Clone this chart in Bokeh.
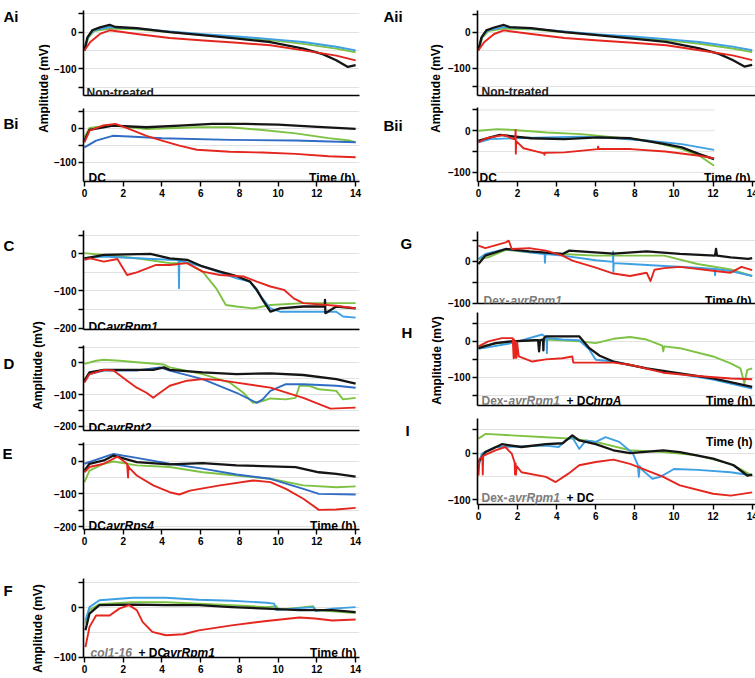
import math
from bokeh.plotting import figure
from bokeh.layouts import row, column
from bokeh.models import Label, FixedTicker, Range1d
from bokeh.embed import file_html
from bokeh.resources import INLINE

FONT = "Liberation Sans"
BLACK = "#151515"
RED = "#e4261e"
GREEN = "#7dc243"
BLUE = "#3ea0e2"
BLUE_DARK = "#2f6cc4"
GRID = "#e2e2e2"
GREY_TXT = "#7c7c7c"

HOURS = [0, 2, 4, 6, 8, 10, 12, 14]

# ---------------- recordings (time in h, amplitude in mV) ----------------
# A: non-treated (same recording shown in Ai and Aii)
a_black_t = [0, 0.15, 0.4, 0.8, 1.3, 1.6, 2.7, 4.4, 6.2, 7.9, 9.6, 11.3, 12.3, 13.0, 13.6, 14.0]
a_black_v = [-50, -15, 5, 13, 20, 14, 11, 0, -9, -18, -27, -45, -60, -77, -95, -90]
a_red_t = [0, 0.3, 0.8, 1.3, 2.7, 4.4, 6.15, 7.9, 9.6, 11.3, 13.0, 14.0]
a_red_v = [-50, -27, -5, 5, -5, -16, -23, -29, -36, -50, -64, -77]
a_green_t = [0, 0.2, 0.5, 1.3, 2.7, 4.4, 6.15, 7.9, 9.6, 11.3, 13.0, 14.0]
a_green_v = [-50, -15, 3, 10, 8, 0, -8, -15, -22, -32, -45, -55]
a_blue_t = [0, 0.2, 0.5, 1.3, 2.7, 4.4, 6.15, 7.9, 9.6, 11.3, 13.0, 14.0]
a_blue_v = [-45, -10, 5, 14, 10, 2, -6, -12, -19, -27, -40, -50]

# Bi: DC
bi_black_t = [0, 0.26, 1.46, 3.2, 4.9, 6.6, 8.3, 10.0, 11.8, 14.0]
bi_black_v = [-36, -5, 8, 3, 8, 13, 13, 11, 5, -2]
bi_red_t = [0, 0.26, 0.95, 1.6, 2.3, 3.2, 4.0, 4.9, 5.8, 7.5, 9.2, 10.9, 12.6, 14.0]
bi_red_v = [-41, -7, 8, 13, -2, -22, -36, -51, -63, -69, -71, -75, -82, -85]
bi_green_t = [0, 0.26, 1.46, 2.3, 3.2, 5.8, 7.5, 9.2, 10.9, 12.6, 13.7, 14.0]
bi_green_v = [-26, 1, 10, 3, -2, 3, 3, -5, -15, -29, -36, -41]
bi_blue_t = [0, 0.6, 1.46, 2.3, 4.0, 7.5, 10.9, 14.0]
bi_blue_v = [-56, -36, -22, -24, -29, -34, -36, -41]

# Bii: DC
bii_black_t = [0, 0.6, 1.1, 2.7, 4.4, 6.1, 7.8, 9.55, 10.4, 11.3, 12.05]
bii_black_v = [-24, -16, -10, -18, -20, -16, -18, -32, -40, -56, -68]
bii_red_t = [0, 0.4, 1.3, 1.8, 1.88, 1.9, 1.91, 1.93, 2.3, 3.0, 3.35, 3.37, 3.4, 4.4,
             6.1, 6.12, 6.15, 7.8, 9.55, 11.3, 12.05]
bii_red_v = [-28, -18, -10, -20, -18, 2, -55, -25, -42, -50, -54, -58, -53, -52,
             -44, -38, -44, -44, -50, -60, -66]
bii_green_t = [0, 0.95, 1.8, 3.5, 5.25, 7.0, 8.7, 10.4, 11.3, 12.05]
bii_green_v = [0, 4, 2, -4, -8, -16, -24, -44, -60, -84]
bii_blue_t = [0, 0.6, 1.8, 3.5, 5.25, 7.0, 8.7, 10.4, 12.05]
bii_blue_v = [-28, -20, -18, -16, -14, -18, -24, -32, -46]
bii_grid_end = 12.1

# C: DC avrRpm1
c_black_t = [0, 1.0, 3.4, 4.4, 5.3, 6.1, 7.0, 7.9, 8.55, 8.9, 9.2, 9.6, 10.1, 11.3,
             12.4, 12.42, 12.44, 13.0, 14.0]
c_black_v = [-12, -3, 0, -12, -16, -34, -48, -61, -75, -97, -124, -156, -147, -142,
             -142, -124, -160, -142, -147]
c_red_t = [0, 0.3, 1.0, 1.7, 2.2, 2.7, 3.7, 4.4, 5.3, 6.1, 7.0, 8.2, 8.9, 9.6, 10.3,
           10.8, 11.3, 13.0, 14.0]
c_red_v = [-16, -12, -21, -14, -57, -50, -30, -30, -25, -48, -57, -61, -75, -88, -97,
           -120, -133, -140, -147]
c_green_t = [0, 1.0, 2.7, 4.4, 5.3, 6.1, 6.8, 7.3, 7.85, 8.7, 9.6, 11.3, 13.0, 14.0]
c_green_v = [2, -3, -12, -25, -25, -48, -93, -138, -142, -147, -138, -133, -133, -133]
c_blue_t = [0, 1.0, 2.7, 4.4, 4.86, 4.88, 4.9, 6.1, 7.85, 8.55, 9.05, 9.6, 10.1, 11.3,
            13.0, 13.35, 14.0]
c_blue_v = [-12, -7, -12, -16, -17, -93, -18, -34, -66, -75, -111, -147, -156, -156,
            -156, -169, -172]

# D: DC avrRpt2
d_black_t = [0, 0.26, 1.0, 2.7, 3.55, 4.1, 4.4, 6.1, 7.85, 9.6, 11.3, 13.0, 14.0]
d_black_v = [-56, -30, -22, -22, -22, -14, -22, -30, -35, -33, -38, -51, -65]
d_red_t = [0, 0.26, 1.0, 1.5, 2.2, 2.7, 3.2, 3.55, 3.9, 4.4, 5.3, 6.1, 7.0, 7.85, 9.6,
           11.3, 12.7, 14.0]
d_red_v = [-62, -35, -22, -24, -56, -78, -94, -110, -94, -72, -56, -51, -54, -62, -78,
           -110, -144, -141]
d_green_t = [0, 0.6, 1.0, 1.8, 2.7, 4.1, 4.4, 6.1, 7.5, 8.2, 8.7, 9.2, 9.6, 10.4, 10.9,
             11.1, 11.6, 12.1, 13.0, 13.35, 14.0]
d_green_v = [-3, 7, 10, 7, 2, -5, -14, -35, -62, -94, -126, -120, -112, -115, -110,
             -72, -72, -83, -88, -115, -110]
d_blue_t = [0, 0.26, 1.0, 2.7, 3.9, 4.4, 6.1, 7.85, 8.9, 9.2, 9.6, 10.4, 11.3, 13.0, 14.0]
d_blue_v = [-56, -35, -24, -24, -14, -24, -51, -94, -126, -115, -88, -67, -67, -72, -78]

# E: DC avrRps4
e_black_t = [0, 0.26, 1.0, 1.5, 2.7, 4.4, 6.1, 7.85, 9.6, 10.9, 12.1, 13.0, 14.0]
e_black_v = [-29, -8, 2, 17, -3, -10, -6, -13, -16, -18, -34, -39, -47]
e_red_t = [0, 0.26, 1.0, 1.7, 2.2, 2.25, 2.27, 2.3, 2.7, 3.55, 4.4, 4.9, 5.45, 7.0, 8.7,
           9.6, 10.4, 11.3, 12.1, 13.0, 14.0]
e_red_v = [-34, -18, -8, 14, -8, -50, -15, -20, -44, -74, -95, -102, -90, -74, -59,
           -64, -85, -115, -149, -148, -143]
e_green_t = [0, 0.26, 1.0, 1.5, 2.7, 4.4, 6.1, 7.85, 9.6, 11.3, 13.0, 14.0]
e_green_v = [-64, -29, -8, -1, -13, -18, -34, -44, -54, -74, -80, -77]
e_blue_t = [0, 1.0, 1.5, 2.7, 4.4, 6.1, 7.85, 9.6, 11.3, 12.1, 14.0]
e_blue_v = [-8, 12, 22, 10, -8, -23, -41, -54, -85, -100, -102]

# F: col1-16 + DC avrRpm1
f_black_t = [0.05, 0.26, 0.77, 2.5, 4.2, 5.9, 7.6, 9.4, 11.1, 12.8, 14.0]
f_black_v = [-46, -12, 5, 6, 5, 5, 1, -2, -5, -5, -9]
f_red_t = [0.05, 0.26, 0.6, 1.3, 1.8, 2.3, 2.7, 3.0, 3.5, 4.2, 5.1, 5.9, 7.6, 9.4, 11.1,
           11.9, 12.8, 14.0]
f_red_v = [-80, -39, -16, -16, -2, 5, -5, -29, -49, -56, -54, -46, -36, -27, -20, -22,
           -26, -24]
f_green_t = [0.05, 0.26, 0.77, 2.5, 4.2, 5.9, 7.6, 9.4, 9.9, 10.05, 11.1, 11.8, 11.95, 14.0]
f_green_v = [-32, -5, 7, 11, 11, 8, 5, 1, 3, -4, 0, 3, -5, -11]
f_blue_t = [0.05, 0.26, 0.77, 2.5, 4.2, 5.9, 7.6, 9.4, 9.8, 9.9, 11.1, 11.8, 11.95, 12.8, 14.0]
f_blue_v = [-26, 1, 15, 20, 20, 16, 14, 10, 8, -5, -1, 1, -7, -2, 1]

# G: Dex-avrRpm1
g_black_t = [0, 0.35, 1.4, 2.6, 4.3, 4.65, 5.2, 6.9, 8.6, 10.3, 12.1, 12.15, 12.2, 12.9,
             13.8, 14.0]
g_black_v = [-6, 14, 30, 24, 18, 26, 24, 19, 24, 18, 14, 30, 14, 10, 6, 8]
g_red_t = [0, 0.35, 1.4, 1.55, 1.7, 2.6, 3.45, 4.3, 4.8, 6.0, 6.9, 7.75, 8.6, 8.8, 9.0,
           9.5, 10.3, 12.1, 12.9, 13.45, 14.0]
g_red_v = [38, 32, 46, 50, 30, 32, 26, 14, 2, -15, -29, -35, -27, -47, -20, -16, -13,
           -23, -27, -13, -21]
g_green_t = [0, 0.5, 1.4, 2.6, 4.3, 6.0, 7.75, 9.5, 11.2, 12.9, 14.0]
g_green_v = [6, 10, 28, 22, 18, 14, 14, 14, -6, -19, -35]
g_blue_t = [0, 0.35, 1.4, 2.6, 3.38, 3.4, 3.42, 4.3, 6.0, 6.88, 6.89, 6.9, 6.92, 7.75,
            9.5, 11.2, 12.08, 12.1, 12.12, 12.9, 14.0]
g_blue_v = [6, 18, 30, 22, 18, -3, 18, 14, 3, -1, 24, -25, -4, -6, -11, -15, -18, -33,
            -18, -23, -35]

# H: Dex-avrRpm1 + DC hrpA
h_black_t = [0, 0.86, 1.7, 2.9, 3.05, 3.1, 3.15, 3.3, 3.32, 3.34, 3.45, 4.5, 5.15, 5.67,
             6.2, 6.9, 8.6, 10.3, 12.0, 14.0]
h_black_v = [-19, -5, 0, 3, 3, -28, 3, 5, -25, 8, 14, 14, 14, -19, -40, -56, -75, -89,
             -103, -126]
h_red_t = [0, 0.5, 1.2, 1.75, 1.8, 1.82, 1.86, 1.9, 1.94, 1.98, 2.06, 2.75, 3.45, 4.3,
           4.8, 4.85, 6.9, 7.75, 9.45, 11.2, 12.9, 14.0]
h_red_v = [-14, 0, 9, 9, -47, 5, -45, 0, -46, -5, -42, -56, -50, -47, -42, -59, -59, -65,
           -87, -96, -103, -105]
h_green_t = [0, 1.7, 3.45, 5.15, 6.0, 6.9, 7.75, 8.6, 9.4, 9.45, 9.5, 10.3, 12.0, 12.9,
             13.4, 13.6, 13.75, 14.0]
h_green_v = [-14, 0, 5, 0, -5, 7, 12, 5, -12, -28, -14, -19, -42, -61, -75, -117, -79, -75]
h_blue_t = [0, 1.7, 3.26, 3.48, 3.5, 3.52, 4.3, 5.15, 5.67, 6.0, 6.9, 8.6, 10.3, 12.0, 14.0]
h_blue_v = [-21, -5, 19, 9, -33, 9, 5, 3, -23, -51, -56, -75, -91, -106, -131]

# I: Dex-avrRpm1 + DC
i_black_t = [0, 0.35, 1.2, 2.2, 3.45, 4.3, 4.8, 5.15, 6.0, 6.9, 7.75, 9.45, 10.3, 12.0,
             13.05, 13.75, 14.0]
i_black_v = [-19, 2, 19, 13, 19, 21, 38, 27, 19, 6, 0, 6, 2, -12, -26, -48, -46]
i_red_t = [0, 0.05, 0.2, 0.22, 0.24, 0.86, 1.37, 1.7, 1.85, 1.87, 1.9, 1.92, 1.95, 2.2,
           3.45, 3.95, 4.6, 5.15, 6.0, 6.9, 7.75, 8.6, 9.45, 10.3, 12.0, 12.9, 14.0]
i_red_v = [-48, -12, -8, -46, -6, 6, 13, -1, -20, -46, -22, -46, -28, -41, -51, -62, -44,
           -26, -19, -14, -23, -37, -51, -69, -87, -91, -84]
i_green_t = [0, 0.35, 1.7, 3.45, 4.8, 6.0, 7.75, 9.45, 11.2, 12.9, 14.0]
i_green_v = [31, 41, 38, 34, 31, 24, 6, 2, -5, -23, -48]
i_blue_t = [0, 0.17, 0.86, 2.06, 3.45, 4.1, 4.45, 4.8, 5.15, 5.5, 6.0, 6.5, 7.2, 7.9,
            8.15, 8.2, 8.25, 8.4, 8.9, 9.3, 10.0, 11.2, 12.9, 14.0]
i_blue_v = [-30, -1, 13, 14, 16, 13, 27, 34, 9, 27, 24, 34, 24, -1, -25, -51, -28, -37,
            -55, -51, -34, -36, -41, -48]

# ---------------- page geometry ----------------
PAGE_H = 678
LEFT_STRIP_W = 50
LEFT_COL_X = 50          # page x where the left column of plots begins
RIGHT_STRIP_X = 375
RIGHT_STRIP_W = 66
RIGHT_COL_X = 441
AXIS_PAD = 30            # room for the amplitude tick labels

FRAME_POS = {}           # plot id -> (frame left, frame bottom) in page pixels


def make_panel(col_x, frame_w, pad_right, x_end, fig_top, frame_top, frame_bottom,
               fig_bottom, y_lo, y_hi, y_labelled, y_minor, hour_labels, series,
               grid=True):
    p = figure(
        frame_width=frame_w, frame_height=frame_bottom - frame_top,
        min_border_left=AXIS_PAD, min_border_right=pad_right,
        min_border_top=frame_top - fig_top, min_border_bottom=fig_bottom - frame_bottom,
        x_range=Range1d(-0.05, x_end), y_range=Range1d(y_lo, y_hi),
        output_backend="svg", toolbar_location=None, title=None,
    )
    p.outline_line_color = None
    p.background_fill_color = "white"
    p.border_fill_color = "white"
    p.xgrid.visible = False
    grid_vals = [v for v in range(-250, 100, 50) if y_lo < v < y_hi]
    if grid:
        p.ygrid.ticker = FixedTicker(ticks=grid_vals)
        p.ygrid.grid_line_color = GRID
        p.ygrid.grid_line_width = 1
    else:
        p.ygrid.visible = False

    ya = p.yaxis[0]
    ya.ticker = FixedTicker(ticks=y_labelled, minor_ticks=y_minor)
    ya.axis_line_width = 1.6
    ya.axis_line_color = "black"
    ya.major_tick_out = 5
    ya.major_tick_in = 0
    ya.minor_tick_out = 5
    ya.minor_tick_in = 0
    ya.major_tick_line_width = 1.4
    ya.minor_tick_line_width = 1.4
    ya.minor_tick_line_color = "black"
    ya.major_label_standoff = 2
    ya.major_label_text_font = FONT
    ya.major_label_text_font_size = "10px"
    ya.major_label_text_font_style = "bold"
    ya.major_label_text_color = "black"

    xa = p.xaxis[0]
    xa.axis_line_width = 1.6
    xa.axis_line_color = "black"
    if hour_labels:
        xa.ticker = FixedTicker(ticks=HOURS, minor_ticks=[])
        xa.major_tick_out = 5
        xa.major_tick_in = 0
        xa.major_tick_line_width = 1.4
        xa.major_label_standoff = 2
        xa.major_label_text_font = FONT
        xa.major_label_text_font_size = "10px"
        xa.major_label_text_font_style = "bold"
        xa.major_label_text_color = "black"
    else:
        xa.ticker = FixedTicker(ticks=[], minor_ticks=[])
        xa.major_tick_out = 0
        xa.major_tick_in = 0
        xa.minor_tick_out = 0
        xa.major_label_standoff = 0
        xa.major_label_text_font_size = "0px"

    for t, v, color, lw in series:
        p.line(t, v, line_color=color, line_width=lw, line_join="round")

    FRAME_POS[p.id] = (col_x + AXIS_PAD, frame_bottom)
    return p


def add_text(p, px, py, text, size="12px", style="bold", color="black", align="left"):
    # px, py are page pixels; screen units of a Label count from the frame's
    # lower-left corner, upward
    fl, fb = FRAME_POS[p.id]
    p.add_layout(Label(
        x=px - fl, y=fb - py, x_units="screen", y_units="screen", text=text,
        text_font=FONT, text_font_size=size, text_font_style=style,
        text_color=color, text_align=align, text_baseline="alphabetic",
    ))


def quad(bt, bv, rt, rv, gt, gv, ut, uv, blue=BLUE):
    return [(gt, gv, GREEN, 1.9), (ut, uv, blue, 1.9), (bt, bv, BLACK, 2.3), (rt, rv, RED, 1.9)]


L = dict(col_x=LEFT_COL_X, frame_w=276, pad_right=19, x_end=14.2)
R = dict(col_x=RIGHT_COL_X, frame_w=279, pad_right=5, x_end=14.22)
L_TIME = 352             # right edge of the "Time (h)" captions, left column
R_TIME = 745             # right edge of the "Time (h)" captions, right column

# ---------------- left column ----------------
p_ai = make_panel(**L, fig_top=0, frame_top=10, frame_bottom=95, fig_bottom=102,
                  y_lo=-173, y_hi=59, y_labelled=[0, -100], y_minor=[50, -150],
                  hour_labels=False,
                  series=quad(a_black_t, a_black_v, a_red_t, a_red_v, a_green_t, a_green_v,
                              a_blue_t, a_blue_v))
add_text(p_ai, 83, 92, "Non-treated", color="#222222")

p_bi = make_panel(**L, fig_top=102, frame_top=108, frame_bottom=181, fig_bottom=215,
                  y_lo=-156, y_hi=58, y_labelled=[0, -100], y_minor=[50, -50],
                  hour_labels=True,
                  series=quad(bi_black_t, bi_black_v, bi_red_t, bi_red_v, bi_green_t,
                              bi_green_v, bi_blue_t, bi_blue_v, blue=BLUE_DARK))
add_text(p_bi, 85, 177, "DC")
add_text(p_bi, L_TIME, 177, "Time (h)", align="right")

p_c = make_panel(**L, fig_top=215, frame_top=230, frame_bottom=329, fig_bottom=337,
                 y_lo=-204, y_hi=63, y_labelled=[0, -100, -200], y_minor=[50, -150],
                 hour_labels=False,
                 series=quad(c_black_t, c_black_v, c_red_t, c_red_v, c_green_t, c_green_v,
                             c_blue_t, c_blue_v))
add_text(p_c, 85, 326, "DC")
add_text(p_c, 103, 326, "avrRpm1", style="bold italic")

p_d = make_panel(**L, fig_top=337, frame_top=345, frame_bottom=430, fig_bottom=436,
                 y_lo=-213, y_hi=55, y_labelled=[0, -100, -200], y_minor=[50, -150],
                 hour_labels=False,
                 series=quad(d_black_t, d_black_v, d_red_t, d_red_v, d_green_t, d_green_v,
                             d_blue_t, d_blue_v, blue=BLUE_DARK))
add_text(p_d, 85, 427, "DC")
add_text(p_d, 103, 427, "avrRpt2", style="bold italic")

p_e = make_panel(**L, fig_top=436, frame_top=442, frame_bottom=529, fig_bottom=560,
                 y_lo=-209, y_hi=57, y_labelled=[0, -100, -200], y_minor=[50, -150],
                 hour_labels=True,
                 series=quad(e_black_t, e_black_v, e_red_t, e_red_v, e_green_t, e_green_v,
                             e_blue_t, e_blue_v, blue=BLUE_DARK))
add_text(p_e, 85, 525, "DC")
add_text(p_e, 103, 525, "avrRps4", style="bold italic")
add_text(p_e, L_TIME + 1, 525, "Time (h)", align="right")

p_f = make_panel(**L, fig_top=560, frame_top=578, frame_bottom=657, fig_bottom=678,
                 y_lo=-101, y_hi=59, y_labelled=[0, -100], y_minor=[50],
                 hour_labels=True,
                 series=quad(f_black_t, f_black_v, f_red_t, f_red_v, f_green_t, f_green_v,
                             f_blue_t, f_blue_v))
add_text(p_f, 87, 652, "col1-16", style="bold italic", color=GREY_TXT)
add_text(p_f, 135, 652, "+ DC")
add_text(p_f, 160, 652, "avrRpm1", style="bold italic")
add_text(p_f, L_TIME + 1, 652, "Time (h)", align="right")

# ---------------- right column ----------------
p_aii = make_panel(**R, fig_top=0, frame_top=10, frame_bottom=95, fig_bottom=102,
                   y_lo=-175, y_hi=60, y_labelled=[0, -100], y_minor=[50, -150],
                   hour_labels=False,
                   series=quad(a_black_t, a_black_v, a_red_t, a_red_v, a_green_t, a_green_v,
                               a_blue_t, a_blue_v))
add_text(p_aii, 475, 91, "Non-treated", color="#222222")

p_bii = make_panel(**R, fig_top=102, frame_top=107, frame_bottom=181, fig_bottom=215,
                   y_lo=-122, y_hi=56, y_labelled=[0, -100], y_minor=[50, -50],
                   hour_labels=True, grid=False,
                   series=quad(bii_black_t, bii_black_v, bii_red_t, bii_red_v, bii_green_t,
                               bii_green_v, bii_blue_t, bii_blue_v))
bii_grid_y = [50, 0, -50, -100]
p_bii.segment(x0=[0] * len(bii_grid_y), x1=[bii_grid_end] * len(bii_grid_y),
              y0=bii_grid_y, y1=bii_grid_y, line_color=GRID, line_width=1, level="underlay")
add_text(p_bii, 473, 177, "DC")
add_text(p_bii, R_TIME - 1, 177, "Time (h)", align="right")

p_g = make_panel(**R, fig_top=215, frame_top=231, frame_bottom=303, fig_bottom=309,
                 y_lo=-101, y_hi=72, y_labelled=[0, -100], y_minor=[50, -50],
                 hour_labels=False,
                 series=quad(g_black_t, g_black_v, g_red_t, g_red_v, g_green_t, g_green_v,
                             g_blue_t, g_blue_v))
add_text(p_g, 477, 300, "Dex-", color=GREY_TXT)
add_text(p_g, 504, 300, "avrRpm1", style="bold italic", color=GREY_TXT)
add_text(p_g, R_TIME, 300, "Time (h)", align="right")

p_h = make_panel(**R, fig_top=309, frame_top=312, frame_bottom=405, fig_bottom=410,
                 y_lo=-178, y_hi=80, y_labelled=[0, -100], y_minor=[50, -50, -150],
                 hour_labels=False,
                 series=quad(h_black_t, h_black_v, h_red_t, h_red_v, h_green_t, h_green_v,
                             h_blue_t, h_blue_v))
add_text(p_h, 475, 400, "Dex-", color=GREY_TXT)
add_text(p_h, 502, 400, "avrRpm1", style="bold italic", color=GREY_TXT)
add_text(p_h, 560, 400, "+ DC")
add_text(p_h, 587, 400, "hrpA", style="bold italic")
add_text(p_h, R_TIME + 1, 400, "Time (h)", align="right")

p_i = make_panel(**R, fig_top=410, frame_top=418, frame_bottom=504, fig_bottom=678,
                 y_lo=-110, y_hi=74, y_labelled=[0, -100], y_minor=[50],
                 hour_labels=True,
                 series=quad(i_black_t, i_black_v, i_red_t, i_red_v, i_green_t, i_green_v,
                             i_blue_t, i_blue_v))
add_text(p_i, R_TIME + 1, 441, "Time (h)", align="right")
add_text(p_i, 475, 497, "Dex-", color=GREY_TXT)
add_text(p_i, 502, 497, "avrRpm1", style="bold italic", color=GREY_TXT)
add_text(p_i, 560, 497, "+ DC")


# ---------------- strips holding panel letters and axis titles ----------------
def make_strip(width):
    s = figure(width=width, height=PAGE_H, x_range=Range1d(0, width),
               y_range=Range1d(0, PAGE_H), min_border=0, x_axis_location=None,
               y_axis_location=None, output_backend="svg", toolbar_location=None,
               title=None)
    s.outline_line_color = None
    s.grid.visible = False
    s.border_fill_color = "white"
    return s


def strip_text(s, x0, px, py, text, size="15px", style="bold", angle=0.0,
               align="left", baseline="alphabetic"):
    s.add_layout(Label(x=px - x0, y=PAGE_H - py, x_units="screen", y_units="screen",
                       text=text, text_font=FONT, text_font_size=size,
                       text_font_style=style, text_color="black", angle=angle,
                       text_align=align, text_baseline=baseline))


AMP = "Amplitude (mV)"
s_left = make_strip(LEFT_STRIP_W)
for letter, lx, ly in [("Ai", 3, 16), ("Bi", 3, 123), ("C", 3, 245), ("D", 3, 363),
                       ("E", 2, 453), ("F", 3, 590)]:
    strip_text(s_left, 0, lx, ly, letter)
for cx, cy in [(43, 88), (37, 365), (37, 628)]:
    strip_text(s_left, 0, cx, cy, AMP, size="12px", angle=math.pi / 2,
               align="center", baseline="middle")

s_right = make_strip(RIGHT_STRIP_W)
for letter, lx, ly in [("Aii", 380, 16), ("Bii", 380, 125), ("G", 397, 243),
                       ("H", 398, 332), ("I", 402, 430)]:
    strip_text(s_right, RIGHT_STRIP_X, lx, ly, letter)
for cx, cy in [(432, 88), (433, 360)]:
    strip_text(s_right, RIGHT_STRIP_X, cx, cy, AMP, size="12px", angle=math.pi / 2,
               align="center", baseline="middle")

left_col = column(p_ai, p_bi, p_c, p_d, p_e, p_f, spacing=0)
right_col = column(p_aii, p_bii, p_g, p_h, p_i, spacing=0)
layout = row(s_left, left_col, s_right, right_col, spacing=0)

open("out.html", "w").write(file_html(layout, INLINE))
